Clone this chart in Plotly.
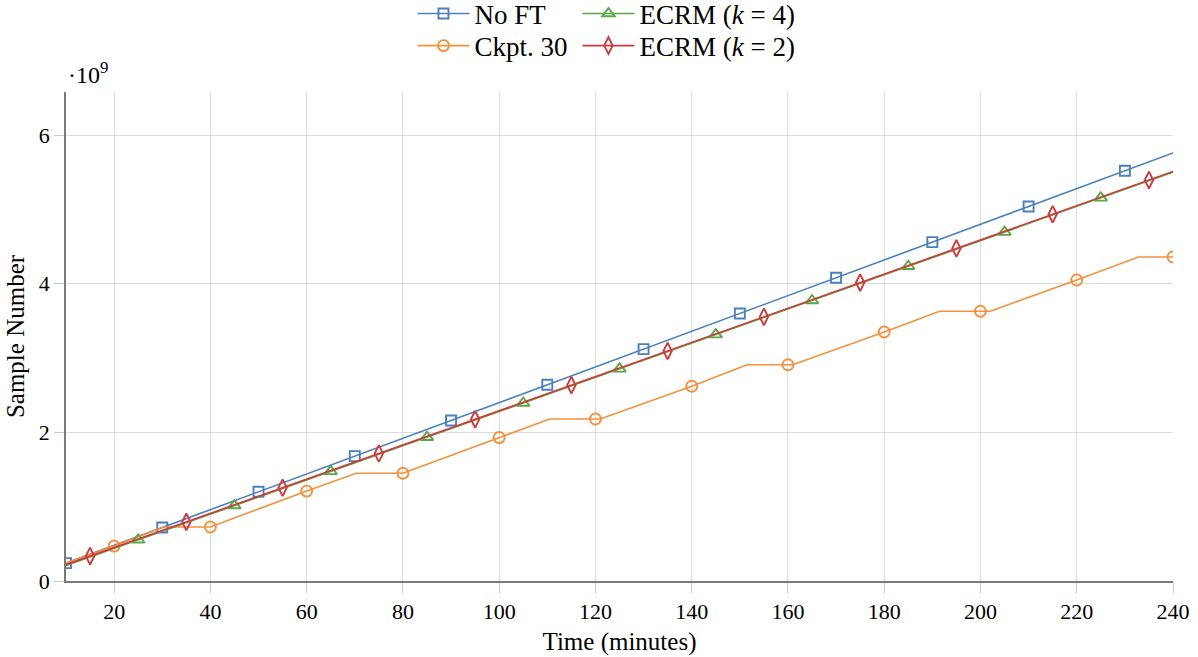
import plotly.graph_objects as go

# ---- data (values in units of 1e9 samples) ----
NOFT_T = [10, 30, 50, 70, 90, 110, 130, 150, 170, 190, 210, 230, 240]
NOFT_Y = [0.24, 0.72, 1.20, 1.68, 2.16, 2.64, 3.12, 3.60, 4.08, 4.56, 5.04, 5.52, 5.76]
NOFT_MARK_T = [10, 30, 50, 70, 90, 110, 130, 150, 170, 190, 210, 230]
NOFT_MARK_Y = [0.24, 0.72, 1.20, 1.68, 2.16, 2.64, 3.12, 3.60, 4.08, 4.56, 5.04, 5.52]

CKPT_T = [10, 20, 30.3, 40, 60, 70.3, 80, 100, 110.5, 120, 121, 140, 151.5, 160, 161,
          180, 191.5, 200, 202, 220, 232.8, 240]
CKPT_Y = [0.24, 0.47, 0.727, 0.727, 1.21, 1.45, 1.45, 1.93, 2.18, 2.18, 2.18, 2.62, 2.91,
          2.91, 2.91, 3.35, 3.63, 3.63, 3.63, 4.05, 4.36, 4.36]
CKPT_MARK_T = [20, 40, 60, 80, 100, 120, 140, 160, 180, 200, 220, 240]
CKPT_MARK_Y = [0.47, 0.727, 1.21, 1.45, 1.93, 2.18, 2.62, 2.91, 3.35, 3.63, 4.05, 4.36]

ECRM4_T = [10, 25, 45, 65, 85, 105, 125, 145, 165, 185, 205, 225, 240]
ECRM4_Y = [0.21, 0.555, 1.015, 1.475, 1.935, 2.395, 2.855, 3.315, 3.775, 4.235, 4.695, 5.155, 5.50]
ECRM4_MARK_T = [25, 45, 65, 85, 105, 125, 145, 165, 185, 205, 225]
ECRM4_MARK_Y = [0.555, 1.015, 1.475, 1.935, 2.395, 2.855, 3.315, 3.775, 4.235, 4.695, 5.155]

ECRM2_T = [10, 15, 35, 55, 75, 95, 115, 135, 155, 175, 195, 215, 235, 240]
ECRM2_Y = [0.22, 0.335, 0.795, 1.255, 1.715, 2.175, 2.635, 3.095, 3.555, 4.015, 4.475, 4.935, 5.395, 5.51]
ECRM2_MARK_T = [15, 35, 55, 75, 95, 115, 135, 155, 175, 195, 215, 235]
ECRM2_MARK_Y = [0.335, 0.795, 1.255, 1.715, 2.175, 2.635, 3.095, 3.555, 4.015, 4.475, 4.935, 5.395]

X_TICKS = [20, 40, 60, 80, 100, 120, 140, 160, 180, 200, 220, 240]
Y_TICKS = [0, 2, 4, 6]

SCALE = 1e9

BLUE = "#4a80bf"
ORANGE = "#f5913c"
GREEN = "#5aa746"
RED = "#cf3a3c"

FONT = "Liberation Serif"

series = [
    ("No FT", NOFT_T, NOFT_Y, NOFT_MARK_T, NOFT_MARK_Y, BLUE, "square-open", 10, "legend"),
    ("Ckpt. 30", CKPT_T, CKPT_Y, CKPT_MARK_T, CKPT_MARK_Y, ORANGE, "circle-open", 11, "legend2"),
    ("ECRM (<i>k</i> = 4)", ECRM4_T, ECRM4_Y, ECRM4_MARK_T, ECRM4_MARK_Y, GREEN, "triangle-up-open", 11, "legend3"),
    ("ECRM (<i>k</i> = 2)", ECRM2_T, ECRM2_Y, ECRM2_MARK_T, ECRM2_MARK_Y, RED, "diamond-tall-open", 12, "legend4"),
]

fig = go.Figure()
for name, lt, ly, mt, my, col, sym, sz, leg in series:
    fig.add_trace(go.Scatter(
        x=lt, y=[v * SCALE for v in ly], mode="lines",
        line=dict(color=col, width=1.6), showlegend=False, hoverinfo="skip"))
    fig.add_trace(go.Scatter(
        x=mt, y=[v * SCALE for v in my], mode="markers",
        marker=dict(symbol=sym, size=sz, color=col, line=dict(color=col, width=1.9)),
        showlegend=False))

for name, lt, ly, mt, my, col, sym, sz, leg in series:
    fig.add_trace(go.Scatter(
        x=[None], y=[None], mode="lines+markers", name=name, legend=leg,
        line=dict(color=col, width=1.6),
        marker=dict(symbol=sym, size=sz, color=col, line=dict(color=col, width=1.9))))

LEG_FONT = dict(family=FONT, size=27, color="black")


def leg(x, y):
    return dict(x=x, y=y, xanchor="left", yanchor="middle", orientation="v",
                bgcolor="rgba(0,0,0,0)", font=LEG_FONT, itemwidth=52)


fig.update_layout(
    width=1198, height=657,
    margin=dict(l=66, r=25, t=92, b=76, autoexpand=False),
    paper_bgcolor="white", plot_bgcolor="white",
    font=dict(family=FONT, size=22, color="black"),
    legend=leg(0.313, 1.1595),
    legend2=leg(0.313, 1.094),
    legend3=leg(0.462, 1.1595),
    legend4=leg(0.462, 1.094),
    xaxis=dict(
        range=[10, 240], tickvals=X_TICKS, ticktext=[str(v) for v in X_TICKS],
        showgrid=True, gridcolor="#dcdcdc", gridwidth=1,
        showline=True, linecolor="#7a7a7a", linewidth=1.5,
        ticks="outside", ticklen=10, tickcolor="#c8c8c8", tickwidth=1,
        zeroline=False, title=dict(text="Time (minutes)", standoff=9,
                                   font=dict(family=FONT, size=25)),
        tickfont=dict(family=FONT, size=22)),
    yaxis=dict(
        range=[0, 6.58 * SCALE], tickvals=[v * SCALE for v in Y_TICKS],
        ticktext=[str(v) for v in Y_TICKS],
        showgrid=True, gridcolor="#dcdcdc", gridwidth=1,
        showline=True, linecolor="#7a7a7a", linewidth=1.5,
        ticks="outside", ticklen=10, tickcolor="#c8c8c8", tickwidth=1,
        zeroline=False, title=dict(text="Sample Number", standoff=7,
                                   font=dict(family=FONT, size=25)),
        tickfont=dict(family=FONT, size=22)),
    annotations=[dict(
        text="·10<sup>9</sup>", xref="paper", yref="paper", x=0, y=1,
        xanchor="left", yanchor="bottom", yshift=2, showarrow=False,
        font=dict(family=FONT, size=24))],
)

fig.write_html("out.html")
